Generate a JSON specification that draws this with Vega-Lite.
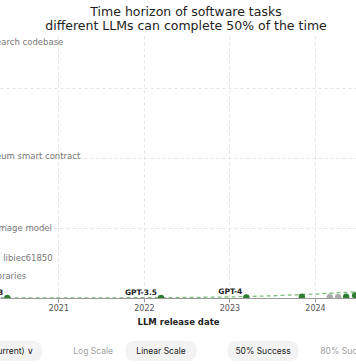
{
  "$schema": "https://vega.github.io/schema/vega-lite/v6.json",
  "padding": {"top": 5, "left": 0, "right": 0, "bottom": 0},
  "background": "white",
  "title": {
    "text": ["Time horizon of software tasks", "different LLMs can complete 50% of the time"],
    "font": "DejaVu Sans",
    "fontSize": 12.5,
    "fontWeight": "normal",
    "lineHeight": 14,
    "color": "#222222",
    "anchor": "middle",
    "dx": 8,
    "offset": 4
  },
  "config": {
    "view": {"stroke": null},
    "font": "DejaVu Sans"
  },
  "datasets": {
    "models": [
      {"model": "GPT-3", "date": "2020-05-28", "hours": 0.003, "frontier": "yes", "label": "GPT-3"},
      {"model": "GPT-3.5", "date": "2022-03-15", "hours": 0.01, "frontier": "yes", "label": "GPT-3.5"},
      {"model": "GPT-4", "date": "2023-03-14", "hours": 0.08, "frontier": "yes", "label": "GPT-4"},
      {"model": "GPT-4 1106", "date": "2023-11-06", "hours": 0.14, "frontier": "yes", "label": ""},
      {"model": "Claude 3 Opus", "date": "2024-03-04", "hours": 0.11, "frontier": "no", "label": ""},
      {"model": "GPT-4 Turbo", "date": "2024-04-09", "hours": 0.11, "frontier": "no", "label": ""},
      {"model": "GPT-4o", "date": "2024-05-13", "hours": 0.15, "frontier": "yes", "label": ""},
      {"model": "Claude 3.5 Sonnet", "date": "2024-06-20", "hours": 0.3, "frontier": "yes", "label": ""}
    ],
    "trend": [
      {"date": "2020-01-01", "hours": 0.004},
      {"date": "2021-01-01", "hours": 0.01},
      {"date": "2022-01-01", "hours": 0.03},
      {"date": "2022-07-01", "hours": 0.06},
      {"date": "2023-01-01", "hours": 0.12},
      {"date": "2023-07-01", "hours": 0.25},
      {"date": "2024-01-01", "hours": 0.45},
      {"date": "2024-07-01", "hours": 0.72}
    ],
    "tasks": [
      {"task": "Fix bugs in small python libraries", "hours": 2.5},
      {"task": "Exploit a buffer overflow in libiec61850", "hours": 4.6},
      {"task": "Train adversarially robust image model", "hours": 8},
      {"task": "Exploit a vulnerable Ethereum smart contract", "hours": 16.3},
      {"task": "Fix complex bug in ML research codebase", "hours": 29.3}
    ],
    "buttons": [
      {"button": "Claude 3.7 Sonnet (current) ∨", "selected": true, "kind": "dropdown"},
      {"button": "Log Scale", "selected": false, "kind": "toggle"},
      {"button": "Linear Scale", "selected": true, "kind": "toggle"},
      {"button": "50% Success", "selected": true, "kind": "toggle"},
      {"button": "80% Success", "selected": false, "kind": "toggle"}
    ]
  },
  "vconcat": [
    {
      "width": 356,
      "height": 262,
      "layer": [
        {
          "data": {"name": "tasks"},
          "mark": {"type": "text", "align": "left", "baseline": "middle", "fontSize": 8.5, "color": "#777777", "clip": true},
          "encoding": {
            "x": {"datum": {"year": 2018, "month": 12, "date": 27}, "type": "temporal"},
            "y": {"field": "hours", "type": "quantitative"},
            "text": {"field": "task"}
          }
        },
        {
          "data": {"name": "trend"},
          "mark": {"type": "line", "color": "#7fbf7f", "strokeDash": [4, 3], "strokeWidth": 1.3, "clip": true},
          "encoding": {
            "x": {"field": "date", "type": "temporal"},
            "y": {"field": "hours", "type": "quantitative"}
          }
        },
        {
          "data": {"name": "models"},
          "mark": {"type": "point", "filled": true, "size": 40, "opacity": 1, "clip": true},
          "encoding": {
            "x": {
              "field": "date", "type": "temporal",
              "scale": {"domain": [{"year": 2020, "month": 4, "date": 27}, {"year": 2024, "month": 6, "date": 24}]},
              "axis": {
                "title": "LLM release date",
                "format": "%Y",
                "tickCount": {"interval": "year", "step": 1},
                "grid": true,
                "gridColor": "#e4e4e4",
                "gridDash": [3, 3],
                "domainColor": "#999999",
                "tickColor": "#999999",
                "tickSize": 4,
                "labelFont": "DejaVu Sans",
                "labelFontSize": 8,
                "labelColor": "#555555",
                "labelPadding": 2,
                "titleFont": "DejaVu Sans",
                "titleFontSize": 8.5,
                "titleFontWeight": 600,
                "titleColor": "#222222",
                "titlePadding": 5
              }
            },
            "y": {
              "field": "hours", "type": "quantitative",
              "scale": {"domain": [0, 30], "nice": false},
              "axis": {
                "title": null, "labels": false, "ticks": false, "domain": false,
                "grid": true, "gridColor": "#e4e4e4", "gridDash": [3, 3],
                "values": [0,1,2,3,4,5,6,7,8,9,10,11,12,13,14,15,16,17,18,19,20,21,22,23,24,25,26,27,28,29,30]
              }
            },
            "color": {
              "field": "frontier", "type": "nominal",
              "scale": {"domain": ["yes", "no"], "range": ["#2e7d32", "#aaaaaa"]},
              "legend": null
            }
          }
        },
        {
          "data": {"name": "models"},
          "mark": {"type": "text", "align": "right", "baseline": "bottom", "dx": -4, "dy": -1, "fontSize": 7.5, "fontWeight": 600, "color": "#222222", "clip": true},
          "encoding": {
            "x": {"field": "date", "type": "temporal"},
            "y": {"field": "hours", "type": "quantitative"},
            "text": {"field": "label"}
          }
        }
      ]
    },
    {
      "width": 356,
      "height": 20,
      "data": {"name": "buttons"},
      "encoding": {
        "x": {
          "field": "button", "type": "nominal",
          "scale": {
            "type": "point",
            "domain": ["Claude 3.7 Sonnet (current) ∨", "g1", "g2", "g3", "Log Scale", "g4", "g5", "g6", "Linear Scale", "g7", "g8", "g9", "g10", "g11", "50% Success", "g12", "g13", "g14", "g15", "80% Success"],
            "padding": 0.97,
            "align": 0.76
          },
          "axis": null
        }
      },
      "layer": [
        {
          "transform": [{"filter": "datum.kind == 'dropdown'"}],
          "mark": {"type": "bar", "width": 60, "xOffset": -13, "cornerRadius": 8, "color": "#f3f3f4", "clip": true}
        },
        {
          "transform": [{"filter": "datum.selected && datum.kind == 'toggle'"}],
          "mark": {"type": "bar", "width": 71, "cornerRadius": 8, "color": "#f3f3f4", "clip": true}
        },
        {
          "transform": [{"filter": "datum.kind == 'dropdown'"}],
          "mark": {"type": "text", "fontSize": 8.5, "font": "Inter", "baseline": "middle", "align": "right", "dx": 9, "color": "#222222", "clip": true},
          "encoding": {"text": {"field": "button"}}
        },
        {
          "transform": [{"filter": "datum.kind == 'toggle'"}],
          "mark": {"type": "text", "fontSize": 8.5, "font": "Inter", "baseline": "middle", "clip": true},
          "encoding": {
            "text": {"field": "button"},
            "color": {
              "condition": {"test": "datum.selected", "value": "#222222"},
              "value": "#a0a0a0"
            }
          }
        }
      ]
    }
  ],
  "spacing": 15
}
